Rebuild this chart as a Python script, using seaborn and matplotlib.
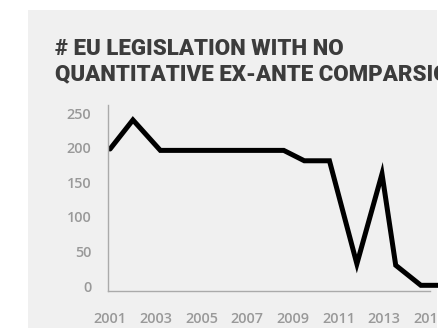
import numpy as np
import pandas as pd
import matplotlib
matplotlib.use("Agg")
import matplotlib.pyplot as plt
import seaborn as sns
from matplotlib.patches import Rectangle

# values
years = [2001.0, 2002.0, 2003.2, 2008.6, 2009.5, 2010.6, 2011.8, 2012.9, 2013.5, 2014.6, 2016.0]
counts = [198, 240, 196, 196, 181, 181, 32, 162, 30, 1, 1]
xtick_years = [2001, 2003, 2005, 2007, 2009, 2011, 2013, 2015]
ytick_vals = [0, 50, 100, 150, 200, 250]
title_lines = ["# EU LEGISLATION WITH NO", "QUANTITATIVE EX-ANTE COMPARSION"]

sns.set_style("white")
plt.rcParams['font.family'] = ['Roboto', 'DejaVu Sans']

df = pd.DataFrame({'Year': years, 'Count': counts})

fig = plt.figure(figsize=(4.38, 3.29), dpi=100)
fig.patch.set_facecolor('white')
# light grey card behind the chart
fig.patches.append(Rectangle((28 / 438, 1 / 329), 409 / 438, 318 / 329,
                             transform=fig.transFigure, facecolor='#f0f0f0',
                             edgecolor='none', zorder=-5))

ax = fig.add_axes([108 / 438, 38 / 329, 330 / 438, 186 / 329])
ax.set_facecolor('none')
ax.set_zorder(2)
sns.lineplot(data=df, x='Year', y='Count', ax=ax, color='black', linewidth=3.6,
             sort=False, estimator=None)
ax.lines[0].set_solid_joinstyle('miter')

ax.set_xlim(2000.91, 2015.35)
ax.set_ylim(-7.2, 261.6)
ax.set_xticks(xtick_years)
ax.set_xticklabels([str(y) for y in xtick_years])
ax.set_yticks(ytick_vals)
ax.set_xlabel('')
ax.set_ylabel('')

for s in ['top', 'right']:
    ax.spines[s].set_visible(False)
for s in ['left', 'bottom']:
    ax.spines[s].set_color('#aaaaaa')
    ax.spines[s].set_linewidth(1.0)
ax.spines['bottom'].set_bounds(2000.91, 2015.0)

ax.tick_params(axis='both', length=0, labelcolor='#999999')
ax.tick_params(axis='y', pad=12)
ax.tick_params(axis='x', pad=15)
for lab in ax.get_xticklabels() + ax.get_yticklabels():
    lab.set_fontfamily(['Open Sans', 'DejaVu Sans'])
    lab.set_fontsize(10.4)
    lab.set_fontweight('semibold')

fig.text(55 / 438, 1 - 55 / 329, title_lines[0], fontsize=16, fontweight='heavy',
         color='#3c3c3c', va='baseline', ha='left', zorder=3)
fig.text(55 / 438, 1 - 80 / 329, title_lines[1], fontsize=16, fontweight='heavy',
         color='#3c3c3c', va='baseline', ha='left', zorder=3)

fig.savefig('out.png', dpi=100)
